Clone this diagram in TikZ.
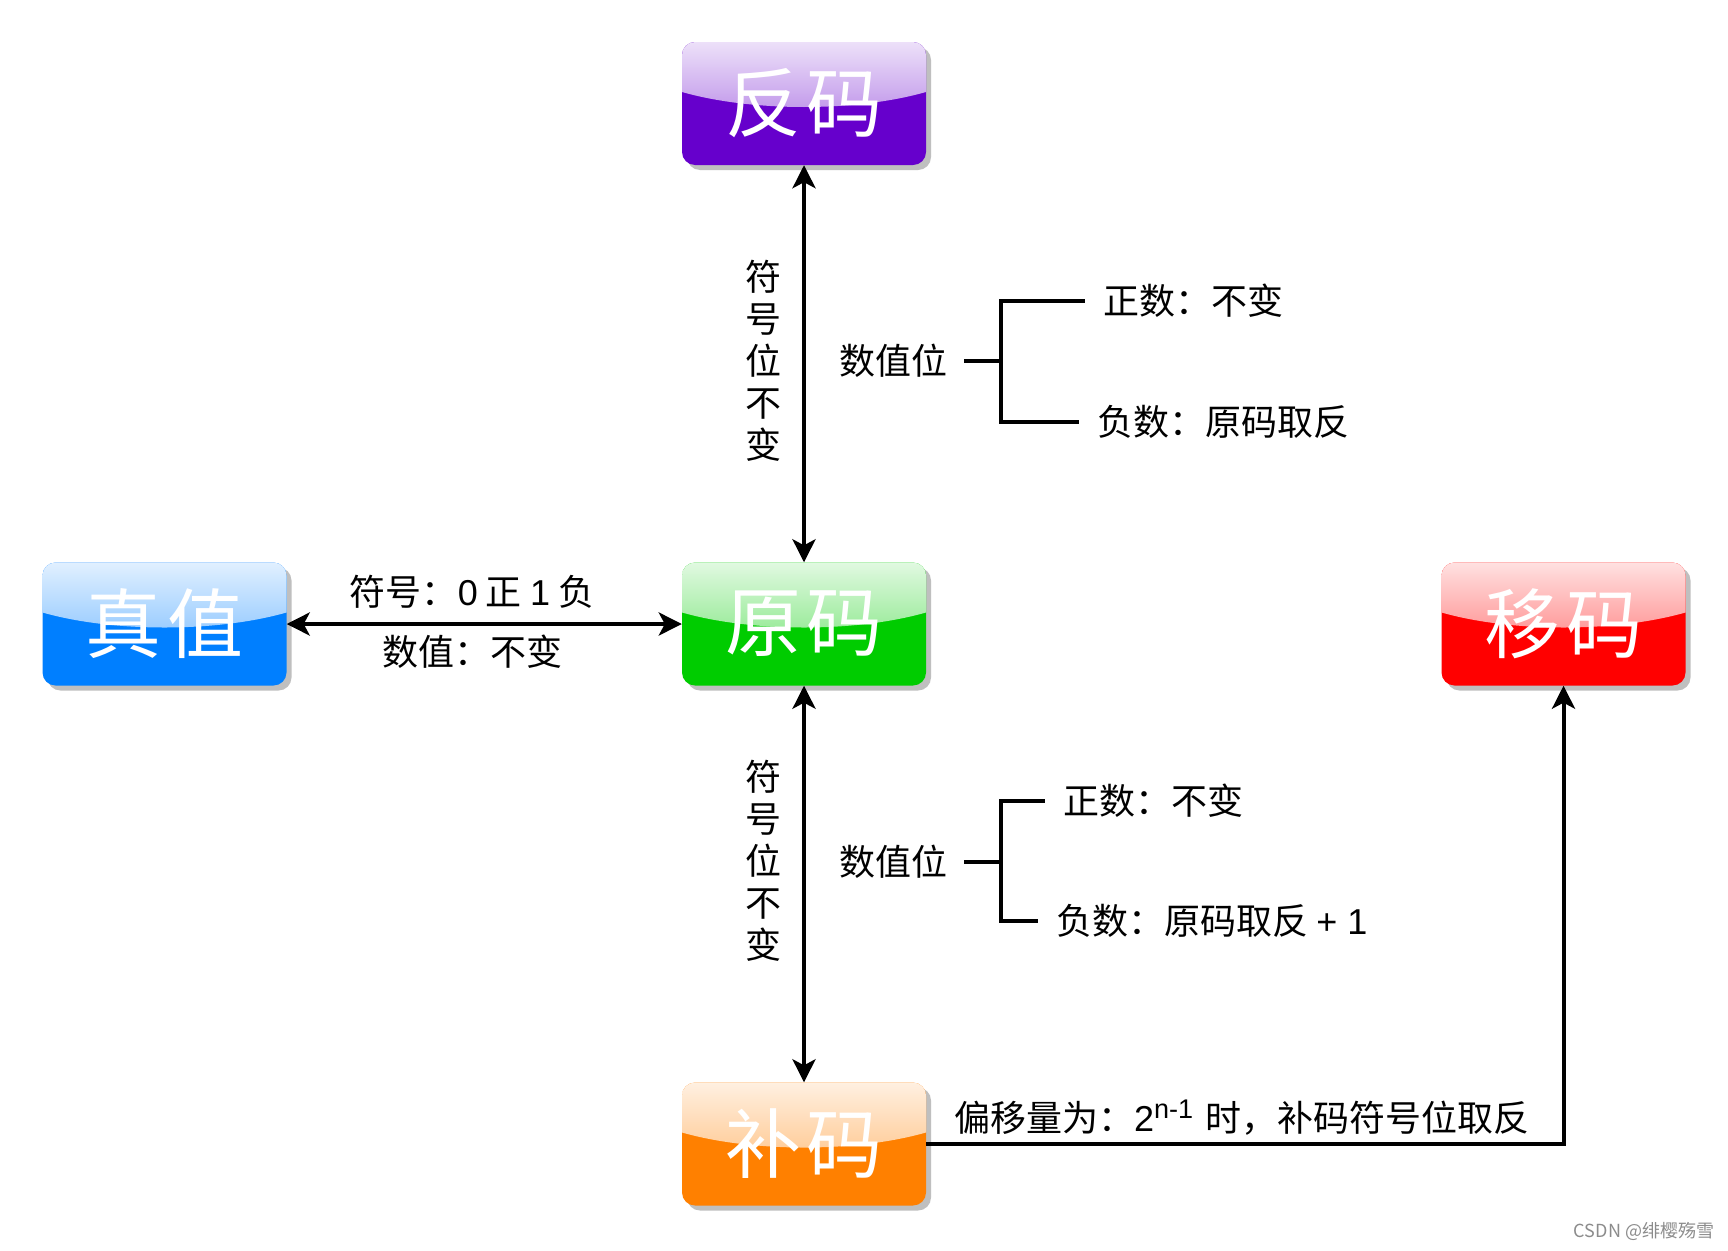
\documentclass[tikz,border=0pt]{standalone}
\usepackage{fontspec}
\setmainfont{Noto Sans CJK SC}
\newfontfamily\latf{Liberation Sans}
\usetikzlibrary{shadows,arrows.meta,calc}
\definecolor{cpurple}{HTML}{6600CC}
\definecolor{cgreen}{HTML}{00CC00}
\definecolor{cblue}{HTML}{007FFF}
\definecolor{cred}{HTML}{FF0000}
\definecolor{corange}{HTML}{FF8000}
\tikzset{
  gbox/.style={rectangle, rounded corners=13pt, minimum width=244pt, minimum height=123pt,
    inner sep=0pt, fill=#1, text=white, font=\fontsize{76}{80}\selectfont,
    drop shadow={shadow xshift=5pt, shadow yshift=-5pt, fill=black!25, opacity=1},
    path picture={
      \shade[sharp corners, top color=#1!12!white, bottom color=#1!62!white]
        (path picture bounding box.north west) -- (path picture bounding box.north east)
        -- ([yshift=-50pt]path picture bounding box.north east)
        .. controls ([xshift=-70pt,yshift=-70pt]path picture bounding box.north east)
        and ([xshift=70pt,yshift=-70pt]path picture bounding box.north west)
        .. ([yshift=-50pt]path picture bounding box.north west) -- cycle;
    }},
  tipb/.tip={Stealth[length=23pt,width=23pt,inset=6pt]},
  arr/.style={line width=4pt, tipb-tipb},
  arrone/.style={line width=4pt, -tipb},
  br/.style={line width=4pt},
  lab/.style={font=\fontsize{36}{42}\selectfont, inner sep=0pt},
}
\begin{document}
\begin{tikzpicture}[x=1pt,y=1pt]
\fill[white] (0,0) rectangle (1728,-1250);
\useasboundingbox (0,0) rectangle (1728,-1250);

% boxes
\node[gbox=cpurple] (fm) at (804,-103.5) {反\hspace{6pt}码};
\node[gbox=cgreen] (ym) at (804,-624) {原\hspace{6pt}码};
\node[gbox=cblue] (zz) at (164.5,-624) {真\hspace{6pt}值};
\node[gbox=cred] (ymm) at (1563.5,-624) {移\hspace{6pt}码};
\node[gbox=corange] (bm) at (804,-1144) {补\hspace{6pt}码};

% connectors
\draw[arr] (fm.south) -- (ym.north);
\draw[arr] (ym.south) -- (bm.north);
\draw[arr] (zz.east) -- (ym.west);
\draw[arrone] (bm.east) -| (ymm.south);

% horizontal labels
\node[lab] (s1) at (472,-592) {符号：{\latf 0} 正 {\latf 1} 负};
\node[lab] (s2) at (472,-652) {数值：不变};

% vertical labels
\node[lab, align=center] (v1) at (763,-361) {符\\号\\位\\不\\变};
\node[lab, align=center] (v2) at (763,-861) {符\\号\\位\\不\\变};

% upper bracket
\node[lab, inner xsep=17pt] (z1) at (893,-361) {数值位};
\coordinate (j1) at (1001,-361);
\node[lab, inner xsep=18pt, anchor=west] (p1) at (1085,-301) {正数：不变};
\node[lab, inner xsep=18pt, anchor=west] (n1) at (1079,-422) {负数：原码取反};
\draw[br] (z1.east) -- (j1);
\draw[br] (j1) |- (p1.west);
\draw[br] (j1) |- (n1.west);

% lower bracket
\node[lab, inner xsep=17pt] (z2) at (893,-862) {数值位};
\coordinate (j2) at (1001,-862);
\node[lab, inner xsep=18pt, anchor=west] (p2) at (1045,-801) {正数：不变};
\node[lab, inner xsep=18pt, anchor=west] (n2) at (1038,-921) {负数：原码取反 {\latf + 1}};
\draw[br] (z2.east) -- (j2);
\draw[br] (j2) |- (p2.west);
\draw[br] (j2) |- (n2.west);

% bottom label
\node[lab, anchor=base west] (py) at (954,-1131) {偏移量为：{\latf 2\raisebox{13pt}{\fontsize{27}{29}\selectfont n-1}\hspace{4pt}} 时，补码符号位取反};

% watermark
\node[font=\fontsize{18}{20}\selectfont, text=black!45, inner sep=0pt] (wm) at (1644,-1231) {CSDN @绯樱殇雪};
\end{tikzpicture}
\end{document}
